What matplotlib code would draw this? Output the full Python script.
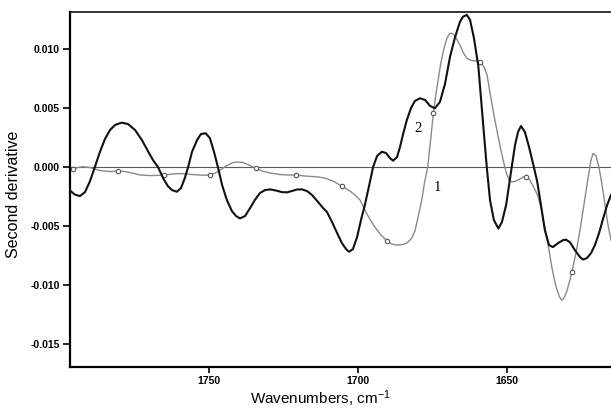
import numpy as np
from matplotlib import pyplot as plt

plt.rcParams['font.family'] = ['Liberation Sans', 'DejaVu Sans']
plt.rcParams['mathtext.default'] = 'regular'

# second derivative spectra, values in units of 1e-3
WAVENUMBERS_1 = [
    1796.8, 1795.7, 1794.0, 1792.3, 1789.9, 1788.3, 1786.6, 1783.2, 1780.4, 1778.2,
    1775.8, 1773.2, 1769.8, 1767.1, 1765.1, 1762.4, 1759.7, 1757.4, 1754.7, 1752.0,
    1749.7, 1748.0, 1746.3, 1744.0, 1741.9, 1740.3, 1738.6, 1736.2, 1734.2, 1732.2,
    1729.5, 1726.2, 1723.5, 1720.8, 1717.8, 1715.4, 1713.4, 1711.1, 1708.4, 1705.5,
    1702.7, 1701.0, 1699.3, 1697.7, 1696.0, 1694.3, 1692.3, 1690.2, 1688.6, 1687.0,
    1685.2, 1683.6, 1682.0, 1680.9, 1679.9, 1678.6, 1677.7, 1676.6, 1675.8, 1674.7,
    1673.8, 1673.1, 1672.2, 1671.1, 1670.1, 1669.1, 1668.1, 1667.1, 1665.8, 1664.8,
    1663.5, 1662.1, 1660.7, 1659.1, 1657.7, 1656.7, 1655.7, 1654.4, 1653.4, 1652.4,
    1651.3, 1650.3, 1649.3, 1648.3, 1647.0, 1645.6, 1644.6, 1643.5, 1642.3, 1640.9,
    1639.6, 1638.6, 1637.3, 1636.2, 1634.9, 1633.6, 1632.5, 1631.6, 1630.9, 1629.9,
    1628.9, 1628.2, 1626.8, 1625.5, 1624.2, 1622.8, 1621.8, 1621.1, 1620.1, 1619.1,
    1618.1, 1617.1, 1616.1, 1615.1,
]
DERIV_1 = [
    -0.15, -0.22, -0.07, 0.00, -0.07, -0.20, -0.32, -0.41, -0.36, -0.41,
    -0.53, -0.70, -0.75, -0.73, -0.70, -0.62, -0.58, -0.62, -0.68, -0.72,
    -0.70, -0.55, -0.30, 0.10, 0.36, 0.40, 0.36, 0.10, -0.14, -0.36,
    -0.53, -0.66, -0.70, -0.70, -0.79, -0.83, -0.87, -0.96, -1.21, -1.64,
    -2.06, -2.40, -2.82, -3.67, -4.44, -5.12, -5.79, -6.28, -6.56, -6.64,
    -6.60, -6.47, -6.07, -5.45, -4.35, -2.82, -1.38, 0.00, 1.84, 4.53,
    6.25, 7.35, 8.80, 10.07, 10.92, 11.32, 11.26, 10.92, 10.32, 9.73,
    9.20, 9.01, 8.97, 8.91, 8.46, 7.78, 6.25, 4.39, 3.11, 1.84,
    0.57, -0.45, -1.13, -1.30, -1.21, -1.04, -0.87, -0.85, -1.13, -1.81,
    -2.49, -3.50, -5.12, -6.64, -8.58, -10.12, -10.97, -11.31, -11.14, -10.54,
    -9.61, -8.91, -7.24, -5.37, -3.25, -0.96, 0.57, 1.14, 0.91, -0.11,
    -1.55, -3.25, -4.95, -6.22,
]
# points of spectrum 1 drawn with open circles
MARKED_1 = [1795.7, 1780.4, 1765.1, 1749.7, 1734.2, 1720.8,
            1705.5, 1690.2, 1674.7, 1659.1, 1643.5, 1628.2]

WAVENUMBERS_2 = [
    1796.8, 1795.0, 1793.3, 1791.6, 1789.9, 1788.3, 1786.6, 1784.9, 1783.2, 1781.5,
    1779.3, 1777.2, 1774.8, 1772.5, 1770.5, 1768.8, 1767.1, 1765.4, 1763.8, 1762.4,
    1760.8, 1759.4, 1758.1, 1757.0, 1755.7, 1754.0, 1752.7, 1751.1, 1749.7, 1748.3,
    1747.0, 1745.6, 1744.0, 1742.3, 1740.9, 1739.6, 1737.9, 1736.2, 1734.6, 1732.9,
    1731.2, 1729.5, 1727.5, 1725.5, 1723.8, 1722.2, 1720.5, 1718.8, 1717.1, 1715.4,
    1713.4, 1711.7, 1710.4, 1708.7, 1707.0, 1705.4, 1704.0, 1703.0, 1701.7, 1700.3,
    1699.0, 1697.7, 1696.3, 1694.9, 1693.6, 1692.0, 1690.6, 1689.3, 1688.2, 1686.9,
    1685.9, 1684.8, 1683.6, 1682.2, 1680.9, 1679.2, 1677.5, 1675.8, 1674.2, 1672.5,
    1670.8, 1669.1, 1667.4, 1665.8, 1664.8, 1663.5, 1662.4, 1661.1, 1659.6, 1658.4,
    1656.8, 1655.7, 1654.4, 1652.9, 1651.7, 1650.3, 1649.3, 1648.4, 1647.3, 1646.3,
    1645.3, 1644.0, 1642.6, 1641.3, 1639.9, 1638.6, 1637.3, 1635.9, 1634.6, 1632.9,
    1631.2, 1630.2, 1628.9, 1627.2, 1625.5, 1624.5, 1623.2, 1621.8, 1620.5, 1619.1,
    1617.8, 1616.4, 1615.1,
]
DERIV_2 = [
    -1.98, -2.36, -2.49, -2.15, -1.21, -0.03, 1.25, 2.35, 3.11, 3.54,
    3.73, 3.62, 3.11, 2.26, 1.33, 0.57, -0.03, -0.96, -1.64, -1.98,
    -2.12, -1.81, -0.96, -0.03, 1.25, 2.26, 2.77, 2.83, 2.43, 1.25,
    -0.03, -1.55, -2.82, -3.76, -4.18, -4.38, -4.18, -3.50, -2.82, -2.23,
    -1.98, -1.92, -2.02, -2.15, -2.17, -2.06, -1.93, -1.92, -2.06, -2.40,
    -2.99, -3.50, -3.84, -4.69, -5.62, -6.47, -6.98, -7.21, -6.98, -5.96,
    -4.52, -3.25, -1.64, 0.00, 0.91, 1.27, 1.16, 0.74, 0.51, 0.82,
    1.67, 2.83, 3.96, 4.98, 5.57, 5.80, 5.66, 5.15, 4.95, 5.49,
    7.02, 9.33, 11.00, 12.27, 12.70, 12.87, 12.44, 10.92, 8.48, 4.81,
    0.00, -2.82, -4.52, -5.23, -4.69, -3.25, -1.55, 0.00, 1.84, 2.94,
    3.45, 2.94, 1.67, 0.31, -1.21, -3.25, -5.37, -6.64, -6.81, -6.48,
    -6.22, -6.18, -6.39, -7.07, -7.66, -7.86, -7.75, -7.32, -6.64, -5.62,
    -4.44, -3.25, -2.40,
]

Y_TICKS = [-0.015, -0.010, -0.005, 0.000, 0.005, 0.010]
X_TICKS = [1750, 1700, 1650]

SCALE = 1e-3


def draw_spectra(ax):
    wn1 = np.array(WAVENUMBERS_1)
    wn2 = np.array(WAVENUMBERS_2)
    d1 = np.array(DERIV_1) * SCALE
    d2 = np.array(DERIV_2) * SCALE
    marks = list(np.nonzero(np.isin(wn1, MARKED_1))[0])

    ax.axhline(0, color='#5a5a5a', lw=0.8, zorder=1)
    ax.plot(wn1, d1, color='#8a8a8a', lw=1.0, marker='o', markevery=marks,
            ms=3.2, mfc='white', mec='#555555', mew=0.8, zorder=2,
            solid_joinstyle='round')
    ax.plot(wn2, d2, color='#111111', lw=1.5, zorder=3,
            solid_joinstyle='round')

    serif = ['Liberation Serif', 'DejaVu Serif']
    ax.text(1679.8, 3.26 * SCALE, '2', family=serif, fontsize=10.5,
            ha='center', va='center')
    ax.text(1673.3, -1.78 * SCALE, '1', family=serif, fontsize=10.5,
            ha='center', va='center')


def style_axes(ax):
    ax.set_xlim(1796.8, 1615.1)
    ax.set_ylim(-0.01697, 0.01311)
    ax.set_xticks(X_TICKS)
    ax.set_yticks(Y_TICKS)
    ax.set_yticklabels(['%.3f' % v for v in Y_TICKS])
    ax.tick_params(direction='out', length=5, width=1.2, labelsize=7.5,
                   pad=2)
    ax.tick_params(axis='x', length=4, pad=2.5)
    for lab in ax.get_xticklabels() + ax.get_yticklabels():
        lab.set_fontweight('bold')
    ax.spines['right'].set_visible(False)
    ax.spines['left'].set_linewidth(1.6)
    ax.spines['bottom'].set_linewidth(1.6)
    ax.spines['top'].set_linewidth(1.1)


fig = plt.figure(figsize=(6.11, 4.08), dpi=100)
ax = fig.add_axes([69.5 / 611, 41 / 408, 1 - 69.5 / 611, 355 / 408])
draw_spectra(ax)
style_axes(ax)

fig.text(320 / 611, 1 - 398.5 / 408, 'Wavenumbers, cm$^{-1}$', fontsize=11,
         ha='center', va='center')
fig.text(14 / 611, 1 - 194 / 408, 'Second derivative', fontsize=11.5,
         rotation=90, ha='center', va='center')

fig.savefig('out.png', dpi=100)
